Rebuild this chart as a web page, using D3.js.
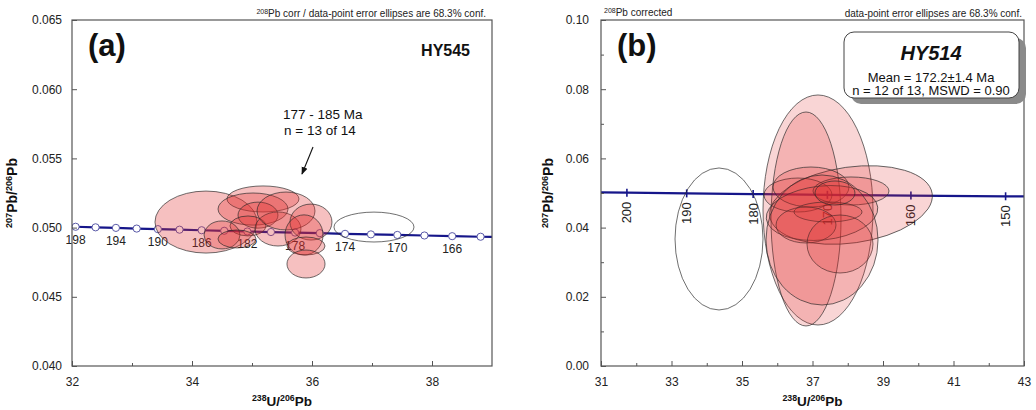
<!DOCTYPE html>
<html>
<head>
<meta charset="utf-8">
<script src="https://cdn.jsdelivr.net/npm/d3@7"></script>
<style>
body { margin: 0; background: #fff; }
svg { font-family: Arial, "Liberation Sans", sans-serif; }
</style>
</head>
<body>
<div id="wrapper"></div>
<script>
// concordia curve (Tera-Wasserburg), age in Ma
const concAgesA = [162,164,166,168,170,172,174,176,178,180,182,184,186,188,190,192,194,196,198,200];
const concUA = [39.295,38.810,38.336,37.874,37.422,36.982,36.551,36.130,35.718,35.316,34.922,34.537,34.161,33.792,33.431,33.078,32.732,32.393,32.060,31.735];
const concPbA = [0.04930,0.04934,0.04938,0.04943,0.04947,0.04951,0.04955,0.04960,0.04964,0.04968,0.04972,0.04977,0.04981,0.04985,0.04989,0.04993,0.04998,0.05002,0.05006,0.05010];
const markAgesA = [164,166,168,170,172,174,176,178,180,182,184,186,188,190,192,194,196,198];
const labelAgesA = [198,194,190,186,182,178,174,170,166];

const concAgesB = [145,150,160,170,180,190,200,205];
const concUB = [43.96,42.478,39.792,37.422,35.316,33.431,31.735,30.949];
const concPbB = [0.04895,0.04905,0.04926,0.04947,0.04968,0.04989,0.05010,0.05021];
const tickAgesB = [200,190,180,170,160,150];

// error ellipses: [238U/206Pb, 207Pb/206Pb, half-width U, half-height Pb, tilt deg]
const spotsA = [
    [34.233,0.05040,0.850,0.00224,0],
    [35.183,0.05207,0.600,0.00094,0],
    [35.017,0.05134,0.583,0.00116,0],
    [35.100,0.05090,0.333,0.00094,0],
    [34.933,0.05012,0.300,0.00072,0],
    [34.500,0.04947,0.300,0.00101,0],
    [34.750,0.04918,0.317,0.00065,0],
    [35.433,0.04990,0.383,0.00123,0],
    [35.567,0.05120,0.483,0.00137,0],
    [35.983,0.05040,0.350,0.00130,0],
    [35.867,0.04947,0.317,0.00145,0],
    [35.900,0.04867,0.317,0.00065,0],
    [35.900,0.04737,0.317,0.00101,0]
];
const rejectA = [[37.033,0.05004,0.667,0.00108,0]];

const spotsB = [
    [37.156,0.04509,1.560,0.03324,0],
    [36.816,0.04249,0.993,0.03092,0],
    [38.092,0.04653,2.326,0.01098,-8],
    [36.589,0.04942,0.965,0.00491,0],
    [36.957,0.05173,1.078,0.00578,0],
    [38.092,0.05058,1.078,0.00405,0],
    [37.270,0.04422,1.589,0.00780,-6],
    [37.440,0.04451,0.965,0.00289,0],
    [36.816,0.04075,0.851,0.00520,0],
    [37.780,0.03526,0.936,0.00838,0],
    [37.270,0.03642,1.589,0.01879,0],
    [37.638,0.05000,0.567,0.00347,0]
];
const rejectB = [[34.348,0.03671,1.248,0.02052,0]];

const svg = d3.select("#wrapper").append("svg")
    .attr("width", 1036)
    .attr("height", 410);

svg.append("defs").append("marker")
    .attr("id", "arr")
    .attr("viewBox", "0 0 10 10")
    .attr("refX", 9).attr("refY", 5)
    .attr("markerWidth", 7).attr("markerHeight", 7)
    .attr("orient", "auto")
    .append("path").attr("d", "M0,1L10,5L0,9z").attr("fill", "#111");

// label with superscripts, parts = [[text, isSup], ...]
function supText(g, parts, size) {
    const t = g.append("text").attr("font-weight", "bold").attr("font-size", size).attr("fill", "#111");
    let up = false;
    parts.forEach(p => {
        const ts = t.append("tspan").text(p[0]);
        if (p[1]) { ts.attr("font-size", size * 0.65).attr("dy", up ? 0 : -size * 0.38); up = true; }
        else { ts.attr("dy", up ? size * 0.38 : 0); up = false; }
    });
    return t;
}

function panel(cfg) {
    const x = d3.scaleLinear().domain(cfg.xd).range([cfg.left, cfg.right]);
    const y = d3.scaleLinear().domain(cfg.yd).range([366, 20]);
    const g = svg.append("g");

    g.append("clipPath").attr("id", "clip" + cfg.id)
        .append("rect").attr("x", cfg.left).attr("y", 20)
        .attr("width", cfg.right - cfg.left).attr("height", 346);

    const inner = g.append("g").attr("clip-path", `url(#clip${cfg.id})`);

    // concordia
    const pts = cfg.ages.map((a, i) => [cfg.cu[i], cfg.cpb[i]]);
    inner.append("path")
        .attr("d", d3.line().x(d => x(d[0])).y(d => y(d[1]))(pts))
        .attr("fill", "none").attr("stroke", "#16168a").attr("stroke-width", 2.2);

    const byAge = a => cfg.ages.indexOf(a);
    if (cfg.markAges) {
        inner.selectAll(".mk").data(cfg.markAges).join("circle")
            .attr("cx", a => x(cfg.cu[byAge(a)]))
            .attr("cy", a => y(cfg.cpb[byAge(a)]))
            .attr("r", 3.6)
            .attr("fill", "#fff").attr("stroke", "#5a5aa8").attr("stroke-width", 1);
        g.append("g").selectAll("text").data(cfg.labelAges).join("text")
            .attr("x", a => x(cfg.cu[byAge(a)]))
            .attr("y", a => y(cfg.cpb[byAge(a)]) + 17)
            .attr("text-anchor", "middle").attr("font-size", 12).attr("fill", "#222")
            .text(a => a);
    } else {
        inner.selectAll(".tk").data(cfg.tickAges).join("line")
            .attr("x1", a => x(cfg.cu[byAge(a)])).attr("x2", a => x(cfg.cu[byAge(a)]))
            .attr("y1", a => y(cfg.cpb[byAge(a)]) - 4).attr("y2", a => y(cfg.cpb[byAge(a)]) + 4)
            .attr("stroke", "#16168a").attr("stroke-width", 1.6);
        g.append("g").selectAll("text").data(cfg.tickAges).join("text")
            .attr("transform", a => `translate(${x(cfg.cu[byAge(a)])},${y(cfg.cpb[byAge(a)]) + 9}) rotate(-90)`)
            .attr("text-anchor", "end").attr("dy", "0.35em")
            .attr("font-size", 13).attr("fill", "#222")
            .text(a => a);
    }

    // ellipses
    const ell = (sel, data, filled) => sel.selectAll(null).data(data).join("ellipse")
        .attr("transform", d => `translate(${x(d[0])},${y(d[1])}) rotate(${d[4]})`)
        .attr("rx", d => x(d[0] + d[2]) - x(d[0]))
        .attr("ry", d => y(d[1]) - y(d[1] + d[3]))
        .attr("fill", filled ? "rgb(225,45,45)" : "none")
        .attr("fill-opacity", cfg.alpha)
        .attr("stroke", "#2a2a2a").attr("stroke-width", 0.8).attr("stroke-opacity", 0.85);
    const eg = g.append("g").attr("clip-path", `url(#clip${cfg.id})`);
    ell(eg.append("g"), cfg.spots, true);
    ell(eg.append("g"), cfg.reject, false);

    // axes
    g.append("g").attr("transform", `translate(${cfg.left},0)`)
        .call(d3.axisLeft(y).tickValues(cfg.yt).tickFormat(d3.format(cfg.yf)).tickSize(-5).tickPadding(cfg.ypad));
    g.append("g").attr("transform", "translate(0,366)")
        .call(d3.axisBottom(x).tickValues(cfg.xt).tickFormat(d3.format("d")).tickSize(-5).tickPadding(11));
    if (cfg.ym) g.append("g").attr("transform", `translate(${cfg.left},0)`)
        .call(d3.axisLeft(y).tickValues(cfg.ym).tickFormat("").tickSize(-3));
    g.append("g").attr("transform", "translate(0,366)")
        .call(d3.axisBottom(x).tickValues(cfg.xm).tickFormat("").tickSize(-3));
    g.selectAll(".domain").remove();
    g.selectAll(".tick line").attr("stroke", "#555");
    g.selectAll(".tick text").attr("font-size", 12).attr("fill", "#222").attr("font-family", "Arial, 'Liberation Sans', sans-serif");

    g.append("rect").attr("x", cfg.left).attr("y", 20)
        .attr("width", cfg.right - cfg.left).attr("height", 346)
        .attr("fill", "none").attr("stroke", "#555").attr("stroke-width", 1.2);

    supText(g, [["238", true], ["U/", false], ["206", true], ["Pb", false]], 13.5)
        .attr("x", (cfg.left + cfg.right) / 2).attr("y", 406).attr("text-anchor", "middle");
    supText(g, [["207", true], ["Pb/", false], ["206", true], ["Pb", false]], 14)
        .attr("transform", `translate(${cfg.ylx},193) rotate(-90)`).attr("text-anchor", "middle");

    g.append("text").attr("x", cfg.left + 16).attr("y", 56)
        .attr("font-size", 31).attr("font-weight", "bold").attr("fill", "#111").text(cfg.tag);

    return { g, x, y };
}

// (a)
const pa = panel({
    id: "a", left: 72, right: 492, xd: [32, 39], yd: [0.040, 0.065],
    xt: [32, 34, 36, 38], xm: [33, 35, 37], yt: [0.040, 0.045, 0.050, 0.055, 0.060, 0.065], ym: null,
    yf: ".3f", ypad: 10, ylx: 17, tag: "(a)", alpha: 0.3,
    ages: concAgesA, cu: concUA, cpb: concPbA, markAges: markAgesA, labelAges: labelAgesA,
    spots: spotsA, reject: rejectA
});

const noteA = pa.g.append("text").attr("x", 486).attr("y", 17).attr("text-anchor", "end")
    .attr("font-size", 10).attr("fill", "#222");
noteA.append("tspan").attr("font-size", 7).attr("dy", -3).text("208");
noteA.append("tspan").attr("dy", 3).text("Pb corr / data-point error ellipses are 68.3% conf.");

pa.g.append("text").attr("x", 470).attr("y", 56).attr("text-anchor", "end")
    .attr("font-size", 16).attr("font-weight", "bold").attr("fill", "#111").text("HY545");
pa.g.append("text").attr("x", 283).attr("y", 119).attr("font-size", 13.5).attr("fill", "#111").text("177 - 185 Ma");
pa.g.append("text").attr("x", 284).attr("y", 135).attr("font-size", 13.5).attr("fill", "#111").text("n = 13 of 14");
pa.g.append("line")
    .attr("x1", pa.x(36.017)).attr("y1", pa.y(0.05582))
    .attr("x2", pa.x(35.833)).attr("y2", pa.y(0.05387))
    .attr("stroke", "#111").attr("stroke-width", 1.1).attr("marker-end", "url(#arr)");

// (b)
const pb = panel({
    id: "b", left: 601, right: 1024, xd: [31, 43], yd: [0, 0.10],
    xt: [31, 33, 35, 37, 39, 41, 43], xm: [32, 34, 36, 38, 40, 42],
    yt: [0, 0.02, 0.04, 0.06, 0.08, 0.10], ym: [0.01, 0.03, 0.05, 0.07, 0.09],
    yf: ".2f", ypad: 12, ylx: 553, tag: "(b)", alpha: 0.2,
    ages: concAgesB, cu: concUB, cpb: concPbB, tickAges: tickAgesB,
    spots: spotsB, reject: rejectB
});

const noteB = pb.g.append("text").attr("x", 604).attr("y", 16).attr("font-size", 10).attr("fill", "#222");
noteB.append("tspan").attr("font-size", 7).attr("dy", -3).text("208");
noteB.append("tspan").attr("dy", 3).text("Pb corrected");
pb.g.append("text").attr("x", 1022).attr("y", 17).attr("text-anchor", "end")
    .attr("font-size", 10).attr("fill", "#222").text("data-point error ellipses are 68.3% conf.");

const box = pb.g.append("g");
box.append("rect").attr("x", 851).attr("y", 38).attr("width", 175).attr("height", 66).attr("rx", 10)
    .attr("fill", "#8a8a8a");
box.append("rect").attr("x", 844).attr("y", 32).attr("width", 175).attr("height", 66).attr("rx", 10)
    .attr("fill", "#fff").attr("stroke", "#444").attr("stroke-width", 1);
box.append("text").attr("x", 931).attr("y", 60).attr("text-anchor", "middle")
    .attr("font-size", 20).attr("font-weight", "bold").attr("font-style", "italic").attr("fill", "#111").text("HY514");
box.append("text").attr("x", 931).attr("y", 82).attr("text-anchor", "middle")
    .attr("font-size", 13).attr("fill", "#111").text("Mean = 172.2\u00b11.4 Ma");
box.append("text").attr("x", 931).attr("y", 95).attr("text-anchor", "middle")
    .attr("font-size", 13).attr("fill", "#111").text("n = 12 of 13, MSWD = 0.90");
</script>
</body>
</html>
